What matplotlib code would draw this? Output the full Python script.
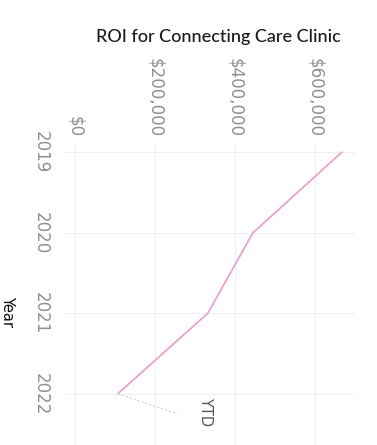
import matplotlib
matplotlib.use("Agg")
import matplotlib.pyplot as plt
from matplotlib.ticker import FuncFormatter

# ROI per year
years = [2019, 2020, 2021, 2022]
roi = [667000, 445000, 332000, 107000]

# Year-to-date estimate
ytd_year = 2022.25
ytd_roi = 257000

value_ticks = [0, 200000, 400000, 600000]
year_ticks = [2019, 2020, 2021, 2022, 2023]

W, H = 377, 445
fig = plt.figure(figsize=(W / 100, H / 100), dpi=100)
fig.patch.set_facecolor("white")

# axes box in pixel terms: left 65, right 355, top 145, bottom beyond the canvas
left, right, top, bottom = 65, 355, 145, 500
ax = fig.add_axes([left / W, (H - bottom) / H, (right - left) / W, (bottom - top) / H])

ax.plot(roi, years, color="#e8a2cf", lw=1.3, solid_capstyle="round")
ax.plot([roi[-1], ytd_roi], [years[-1], ytd_year], color="#dcd3d8", lw=1.0,
        linestyle=(0, (1.5, 1.5)))
ax.annotate("YTD", xy=(ytd_roi, ytd_year), xytext=(28, 2), textcoords="offset pixels",
            rotation=-90, ha="center", va="center", fontsize=10.5, color="#555555",
            family="DejaVu Sans")

ax.set_xlim(-25000, 700000)
ax.set_ylim(2023.32, 2018.91)

ax.xaxis.tick_top()
ax.set_xticks(value_ticks)
ax.xaxis.set_major_formatter(FuncFormatter(lambda v, p: f"${v:,.0f}"))
ax.set_yticks(year_ticks)
ax.set_yticklabels([str(y) for y in year_ticks])

for lbl in ax.get_xticklabels():
    lbl.set_rotation(-90)
    lbl.set_va("bottom")
    lbl.set_ha("center")
for lbl in ax.get_yticklabels():
    lbl.set_rotation(-90)
    lbl.set_va("center")
    lbl.set_ha("right")

ax.tick_params(axis="both", length=0, labelsize=12, labelcolor="#8f8f8f")
ax.tick_params(axis="x", pad=6)
ax.tick_params(axis="y", pad=11)

ax.grid(True, color="#f0f0f0", lw=0.8)
ax.set_axisbelow(True)
for s in ax.spines.values():
    s.set_visible(False)

fig.text(218 / W, 1 - 37 / H, "ROI for Connecting Care Clinic", ha="center", va="center",
         fontsize=13, color="#1a1a1a", family="Lato", fontweight="medium")
fig.text(8 / W, 1 - 312 / H, "Year", ha="center", va="center", rotation=-90,
         fontsize=10.5, color="#111111", family="DejaVu Sans")

fig.savefig("out.png", dpi=100, facecolor="white")
